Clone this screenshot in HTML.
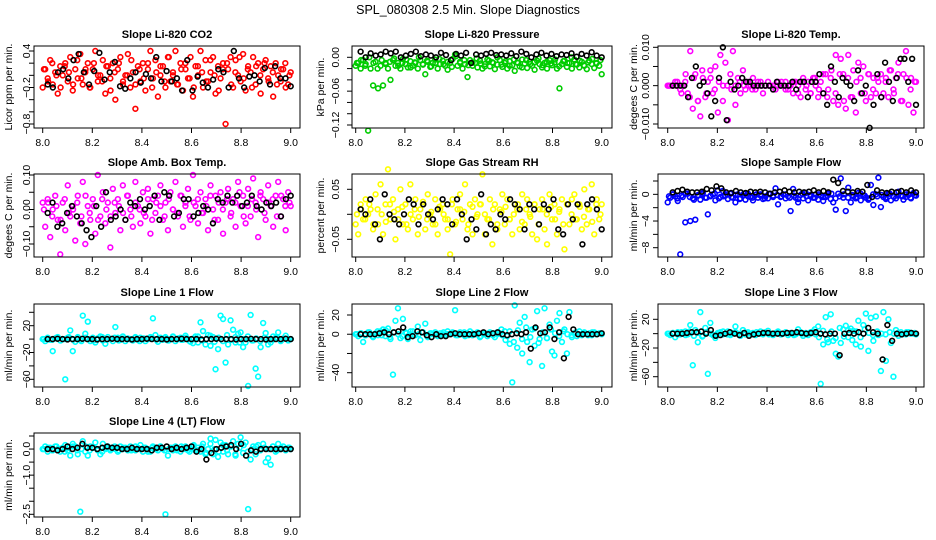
<!DOCTYPE html>
<html><head><meta charset="utf-8"><style>
html,body{margin:0;padding:0;background:#fff}
svg{display:block;font-family:"Liberation Sans",sans-serif}
</style></head><body>
<svg id="chart" width="936" height="540" viewBox="0 0 936 540">
<text x="468" y="14" text-anchor="middle" font-size="12.5">SPL_080308  2.5 Min. Slope Diagnostics</text>
</svg>
<script>
const xTicks=[8.0,8.2,8.4,8.6,8.8,9.0];
const xTickLabels=["8.0","8.2","8.4","8.6","8.8","9.0"];
const co2Color=[-0.2,0.1,-0.05,0.25,-0.15,0.05,-0.3,0.15,0,0.2,-0.1,0.3,-0.25,0.1,-0.05,0.35,-0.15,0.05,0.2,-0.2,0.1,0.4,-0.1,0,0.25,-0.3,0.15,-0.05,0.2,-0.4,0.1,0.3,-0.15,0,0.35,-0.2,0.05,-0.55,0.15,-0.1,0.2,-0.25,0.1,0.4,-0.05,0.25,-0.35,0,0.15,-0.2,0.3,-0.1,0.05,0.4,-0.15,0.2,-0.25,0.1,-0.05,0.3,-0.35,0.15,0,0.4,-0.2,0.25,-0.1,0.05,0.3,-0.3,0.15,-0.05,0.2,-0.8,0.1,0.3,-0.2,0.25,0,-0.1,0.35,-0.25,0.15,0.05,0.3,-0.15,0.2,-0.3,0.1,0.25,-0.05,0.15,-0.35,0.2,0,-0.1,0.1,-0.2,-0.15,0.05];
const co2ColorB=[0.1,-0.1,0.2,0,-0.2,0.15,0.05,-0.15,0.25,-0.05,0.1,-0.2,0.2,0,-0.1,0.15,-0.25,0.05,0.2,-0.1,0,0.25,-0.15,0.1,-0.05,0.2,-0.2,0.05,0.15,-0.1,0.3,0,-0.15,0.1,0.2,-0.05,-0.2,0.15,0.05,-0.1,0.25,0,-0.25,0.1,0.2,-0.15,0.05,0.3,-0.05,0.1,-0.2,0.15,0,0.2,-0.1,0.05,-0.15,0.1,0.2,0];
const co2Black=[-0.15,-0.2,0.05,0.1,-0.05,0.25,0.35,0.05,-0.15,0.07,0.37,-0.07,0.05,0.22,-0.18,-0.22,-0.05,0.05,-0.12,0.02,-0.05,0.3,-0.1,0.07,-0.1,-0.05,-0.25,0.25,-0.25,-0.02,-0.12,-0.2,-0.07,0.1,0.05,-0.2,0.4,-0.05,-0.2,-0.02,0.0,-0.1,0.12,-0.15,0.15,-0.05,-0.05,-0.18];
const presColor=[-0.015,-0.01,-0.02,-0.005,-0.012,-0.13,-0.02,-0.05,-0.008,-0.055,-0.015,-0.05,-0.01,-0.02,-0.04,-0.005,-0.015,-0.01,-0.02,-0.003,-0.012,-0.018,-0.007,-0.015,-0.01,-0.02,-0.005,-0.012,-0.03,-0.008,-0.017,-0.01,-0.004,-0.02,-0.012,-0.006,-0.015,-0.022,-0.01,-0.003,0.005,-0.015,-0.008,-0.02,-0.012,-0.035,-0.005,-0.015,-0.01,-0.018,-0.006,-0.02,-0.012,-0.004,-0.016,-0.009,-0.021,-0.013,-0.005,-0.017,-0.01,-0.02,-0.007,-0.014,-0.024,-0.009,-0.016,-0.004,-0.011,-0.019,-0.008,-0.015,-0.022,-0.006,-0.012,-0.018,-0.01,-0.02,-0.005,-0.014,-0.009,-0.02,-0.055,-0.012,-0.006,-0.017,-0.01,-0.02,-0.004,-0.013,-0.018,-0.008,-0.015,-0.021,-0.006,-0.012,-0.019,-0.01,-0.015,-0.03];
const presColorB=[-0.01,-0.005,-0.015,0,-0.01,-0.02,-0.005,-0.012,-0.008,-0.002,-0.015,-0.01,-0.004,-0.018,-0.009,0,-0.013,-0.006,-0.016,-0.01,-0.003,-0.012,-0.008,-0.017,0.002,-0.01,-0.005,-0.014,-0.009,-0.002,-0.011,-0.016,-0.006,-0.01,0,-0.013,-0.007,-0.015,-0.004,-0.01,-0.018,-0.005,-0.012,-0.009,-0.002,-0.014,-0.008,-0.011,-0.004,-0.016,-0.007,-0.01,0,-0.012,-0.006,-0.014,-0.009,-0.003,-0.011,-0.005];
const presBlack=[0.01,0,0.007,0.003,0.005,0.01,0.007,0.01,0,0.003,0.006,0.01,0.002,0.005,0.003,0,0.008,0.004,-0.005,0.006,0.003,0.008,-0.01,0.005,0.003,0.006,0.008,0.004,0.005,0.003,0.007,0.002,0.01,0.006,0,0.005,0.008,0.003,0.006,0.002,0.005,0.004,0.007,0.001,0.006,0.003,0.009,0.003,0];
const tempColor=[0,0,0,0.001,0,-0.001,0,0.001,-0.002,0.009,-0.006,0.003,-0.004,-0.008,0.002,-0.003,0.001,0.004,-0.002,0.005,-0.007,0.008,-0.004,0.006,-0.009,0.003,0.009,-0.005,0.002,-0.002,0.004,-0.001,0.001,0,0.002,-0.001,0.001,0,-0.002,0,0.001,0,0,-0.001,0.001,0,0,0.001,-0.001,0,-0.002,0.001,0,-0.003,0.002,-0.001,0.001,-0.002,0.002,0,-0.003,0.001,-0.002,0.003,-0.001,0.002,-0.004,0.008,-0.005,0.007,0.003,-0.006,0.008,-0.003,0.004,-0.007,0.006,-0.002,0.005,-0.004,0.003,-0.003,0.002,-0.002,0.001,0.003,-0.002,0.002,-0.003,0.004,-0.001,0.002,0.006,-0.004,0.003,0.009,-0.005,0.002,-0.007,0.001];
const tempColorB=[0,0,0.001,-0.002,0.003,-0.003,0.002,-0.004,0.004,-0.002,0.002,-0.001,0.001,0,0,-0.001,0,0.001,0,0,-0.001,0,0.001,0,0,-0.001,0,0.001,-0.001,0,0.001,-0.002,0.001,0,-0.002,0.002,-0.001,0.003,-0.003,0.004,-0.002,0.003,-0.004,0.002,-0.003,0.001,0.002,-0.002,0.003,-0.001,0.002,-0.003,0.001,0.004,-0.002,0.003,-0.004,0.002,-0.001,0.001];
const tempBlack=[0,0,0,0,-0.003,0.002,0.005,0,0.001,-0.002,-0.008,-0.004,0.002,0.01,-0.009,0.001,-0.001,0,0.002,0.001,0.001,0,0,0,0,0,-0.001,0.001,0,0,0,0.001,-0.001,0.001,0.001,-0.003,0.001,0.001,0.003,-0.002,-0.005,0.005,0.001,-0.003,0.002,0.001,0,-0.004,0.004,-0.002,0,-0.011,-0.005,0.003,-0.003,0.006,0.001,-0.004,0.002,0.007,0.007,0.001,0.007,-0.005];
const ambColor=[0.02,-0.05,0.03,-0.08,0,0.04,-0.03,-0.13,0.02,-0.06,0.07,-0.02,0.01,-0.09,0.04,-0.04,0.08,-0.1,0.01,-0.03,0.03,-0.07,0.1,-0.02,0.05,-0.04,0.02,-0.11,0.06,-0.01,0.03,-0.06,0.07,-0.03,0.04,0,-0.05,0.08,0.01,-0.04,0.05,-0.02,0.06,-0.07,0.03,-0.01,0.04,0.07,-0.03,0.02,-0.06,0.05,0,0.08,-0.02,0.04,-0.05,0.02,0.06,-0.03,0.1,0.01,-0.04,0.05,-0.01,0.03,-0.06,0.07,0,0.04,-0.03,0.05,-0.07,0.02,0.06,-0.02,0.03,-0.05,0.08,0.01,0.04,-0.04,0.06,-0.02,0.09,0.02,-0.08,0.05,0.03,-0.03,0.07,0.01,-0.05,0.04,0.08,-0.02,0.03,-0.06,0.05,0.01];
const ambColorB=[0,0.02,-0.02,0.01,-0.03,0.03,-0.01,0,0.02,-0.02,0.04,-0.01,0.01,-0.03,0.03,0,-0.02,0.02,0.01,-0.01,0.04,-0.02,0.02,0,-0.01,0.03,-0.03,0.02,0.01,-0.02,0.03,0,-0.01,0.04,0.01,-0.02,0.02,0.03,-0.01,0.01,0.04,-0.03,0.02,0,0.03,-0.01,0.02,0.05,-0.02,0.01,0.03,0,0.04,-0.01,0.02,0.03,-0.02,0.04,0.01,0.02];
const ambBlack=[-0.01,0.02,-0.05,-0.04,-0.01,0.01,-0.02,-0.04,-0.06,-0.08,0.01,-0.05,0.05,-0.03,-0.02,0,-0.03,0.02,0.01,0.03,0,0.01,0.04,-0.03,0.05,0.04,-0.02,-0.01,0.03,0.03,-0.02,-0.01,0.01,0,-0.04,0.03,0.02,0.04,0.02,0.04,0.01,0.02,0.04,0.01,0,0.02,0.01,0.02,-0.02,0.03,0.04];
const rhColor=[-0.02,-0.04,0.02,-0.01,0.03,0,0.01,-0.03,0.04,-0.02,0.06,-0.04,0.02,0.09,-0.01,0.03,-0.05,0.01,0.05,-0.02,0.02,-0.03,0.06,-0.01,0.03,-0.04,0.01,0.02,-0.03,0.04,0,-0.02,0.03,-0.04,0.01,0.02,-0.01,-0.03,-0.08,0.03,-0.02,0.01,0.04,-0.01,0.06,-0.03,0.02,-0.04,0.03,0,0.02,0.08,-0.04,-0.01,0.03,-0.06,0.02,-0.03,0.01,0.04,-0.02,0.03,-0.01,-0.04,0.02,0.01,-0.03,0.04,-0.02,0.03,0,-0.04,0.02,-0.05,0.01,0.03,-0.03,-0.06,0.04,-0.01,0.02,-0.04,0.01,0.03,-0.07,0.02,-0.02,0.03,0.04,-0.01,0.02,-0.03,0.05,-0.02,0.01,0.06,-0.04,0.03,-0.01,0.02];
const rhColorB=[0,0.01,-0.01,0.02,-0.02,0.01,0,-0.015,0.02,0.005,-0.01,0.015,-0.02,0,0.01,-0.005,0.025,-0.01,0.005,-0.02,0.015,0,-0.01,0.02,-0.015,0.01,0.005,-0.02,0.015,-0.005,0.02,0,-0.01,0.01,-0.02,0.005,0.015,-0.01,0,0.02,-0.015,0.01,-0.005,0.02,-0.02,0.01,0,0.015,-0.01,0.005,-0.02,0.02,0,-0.01,0.015,-0.005,0.01,-0.015,0.02,0];
const rhBlack=[0.01,0,0.03,-0.02,-0.05,0.04,0,-0.01,-0.02,0,0.03,0.02,-0.02,0.02,0,-0.01,0.01,0.03,0.02,-0.02,0.03,0,-0.05,-0.01,-0.03,0.04,-0.04,-0.02,-0.03,0,-0.01,0.03,0.02,0.01,-0.03,0.02,0.01,-0.02,0.02,0.01,0.03,-0.03,-0.04,0.02,-0.01,0.02,-0.06,0.02,0.03,0.01,-0.03];
const sampColor=[-1.2,-0.5,0,-0.3,-1,-9,-0.4,-4.2,0.1,-4,-0.6,-3.8,-0.2,-0.8,0.2,-0.5,-3,-0.3,0,-0.9,0.6,-0.4,0.5,-0.2,-0.7,0.1,-0.5,-1.2,0,-0.6,-0.2,-0.8,0.1,-0.4,-0.9,-0.1,-0.5,0,-0.7,-0.3,-0.6,0.1,-0.2,0.9,-1.5,-0.4,0,-0.6,-0.3,-2.5,0.8,-0.5,-1.2,-0.1,-0.6,0.2,-0.9,-0.3,-0.5,0,-0.8,-0.2,-1,-0.4,0.1,-0.7,-1.2,-2.3,0.1,2.4,-0.5,-2.5,1,-1.2,-0.3,-0.6,0.2,-0.9,-0.2,-0.5,-0.8,1.4,-1.6,0,2.5,-1.9,-0.4,-0.7,0.1,-0.9,-0.3,-0.6,0.4,-0.2,-0.8,-0.4,-0.1,-0.6,0.2,-0.2];
const sampColorB=[-0.3,0,-0.6,-0.2,0.1,-0.4,-0.8,-0.1,0,-0.5,-0.2,0.1,-0.6,-0.3,0,-0.4,-0.1,-0.7,0.1,-0.3,-0.5,0,-0.2,-0.6,0.1,-0.4,-0.1,-0.3,0,-0.5,-0.2,-0.7,0.1,-0.3,-0.1,-0.5,0,-0.4,-0.2,0.1,-0.6,-0.3,0,-0.5,-0.1,-0.4,0.1,-0.2,-0.6,0,-0.3,-0.1,-0.5,0.1,-0.4,-0.2,-0.3,0,-0.5,-0.1];
const sampBlack=[0.3,0.5,0.7,0.4,0.3,0.3,0.4,0.8,0.6,1.2,0.9,0.3,0.2,0.5,0.3,0.2,0.4,0.3,0.4,0.3,0.1,0.3,0.4,0.6,0.4,0.3,0.4,0.3,0.4,0.6,0.3,0.5,0.3,2.2,1.7,0.5,0.4,0.3,0.5,0.4,1.4,-0.4,0.6,0.3,0.2,0.4,0.3,0.5,0.3,0.6,0.3];
const l1Color=[0,-3,2,-1,-18,1,3,-2,0,-60,2,13,-18,-4,3,-1,35,8,26,-3,2,-5,1,4,-2,-7,3,0,-3,18,2,-1,4,-3,1,0,-2,3,-1,2,0,-3,1,3,31,6,-4,2,-1,3,-2,0,4,-3,1,2,-1,5,0,-4,-6,4,-5,25,12,-8,6,-10,3,-45,-15,35,30,-35,-8,28,14,-5,8,10,-12,-5,-70,36,-2,-44,-56,-12,24,9,-8,-5,4,2,10,-3,1,5,-2,0];
const l1ColorB=[0,1,-1,2,-2,0,3,-1,1,-3,2,0,-2,1,3,-1,0,2,-2,1,0,-1,2,-3,1,0,2,-1,0,1,-2,3,0,-1,2,-3,1,4,-2,0,5,-4,2,-3,6,-1,3,-5,0,4,-2,1,-3,2,0,-1,3,-2,1,0];
const l1Black=[0,0,0.5,0,-0.5,0,0,0.5,0,0,-0.5,0,0,0.5,0,0,0,-0.5,0,0,0.5,0,0,0,-0.5,0,0,0.5,0,0,0,-0.5,0,0,0.5,0,0,0,-0.5,0,0,0.5,0,0,-0.5,0,0,0,0.5,0];
const l2Color=[0,-2,1,-8,-1,2,0,-3,1,-1,3,5,-2,6,-5,-42,14,27,-4,16,2,-5,0,3,-1,8,-6,2,11,-3,1,0,2,-2,1,0,-1,3,0,2,25,-1,2,0,-2,1,3,-1,0,2,-3,1,0,-2,2,1,-3,0,1,-1,3,-2,-10,-50,30,-14,12,-20,18,-8,-29,5,-12,24,-5,-33,27,-4,10,-18,-22,14,22,-8,5,-20,23,-3,1,-2,3,-1,2,0,1,-1,2,0,1,0];
const l2ColorB=[0,1,-1,2,-2,3,-1,4,-3,2,0,-2,1,3,-1,0,2,-2,1,0,-1,2,0,1,-1,0,2,-1,1,0,-2,1,0,-1,2,5,-6,3,-8,4,-5,7,-3,6,-9,2,-4,5,1,-2,3,0,-1,2,0,1,-1,2,0,1];
const l2Black=[0,0,0,0,1,2,0,2,3,7,-3,-2,3,2,-1,-3,0,-2,-2,0,1,0,0,0,0,1,2,0,1,2,0,-1,0,1,0,2,-15,7,1,2,7,-5,2,-25,18,5,0,0,0,0,0,1];
const l3Color=[0,-2,1,-5,2,-1,0,3,-1,12,-44,5,-12,30,-3,8,-56,15,-2,-6,1,2,-1,0,3,-2,1,10,0,-3,5,-1,2,0,1,-2,0,3,-1,2,4,0,-2,1,3,-1,0,2,-2,1,0,-1,6,2,-3,1,-2,0,3,-1,10,-70,-15,23,-12,27,-10,-28,-32,-13,6,11,-5,7,4,-15,18,-18,12,28,-24,22,-10,24,-2,-52,30,-38,20,-13,-60,5,-3,2,0,-1,2,1,0,-1];
const l3ColorB=[0,1,-1,2,-2,3,-3,1,-4,2,0,-2,1,3,-1,0,2,-2,1,0,-1,2,0,1,-1,0,2,-1,1,0,-2,1,0,-1,2,6,-5,4,-8,3,-6,8,-4,5,-9,3,-5,6,1,-2,3,0,-1,2,0,1,-1,2,0,1];
const l3Black=[0,0,0,1,2,2,3,0,5,-3,-2,0,2,0,-2,1,-3,-1,0,1,1,0,0,0,1,1,2,1,0,1,2,0,-1,0,0,-30,0,1,0,2,0,8,2,0,-36,12,-10,0,-1,0,1,0];
const l4Color=[0,0.1,-0.1,0.05,-0.05,0.1,0,-0.1,0.05,0.15,-0.05,-0.25,0.2,0.1,-0.2,-2.4,0.3,-0.1,-0.25,0.1,0.05,0.25,-0.05,-0.2,0.2,0,0.1,-0.05,0.05,0,-0.1,0.1,0,0.05,-0.05,0.1,0,-0.05,0.05,0.15,-0.1,0.05,0,-0.1,0.1,0.05,-0.05,0.1,0,-2.5,-0.25,0.05,-0.05,0.1,0,-0.1,0.05,0.1,-0.05,0,0.1,-0.05,0.05,-0.1,0.2,-0.2,0,0.4,-0.2,0.35,-0.3,0.25,-0.1,0.15,-0.2,0.1,0.3,-0.25,0.2,0.45,-0.15,0.25,-2.3,-0.4,0.1,-0.2,0.15,0,0.2,-0.5,-0.35,-0.6,0.1,-0.1,0.2,0,0.1,-0.05,0.05,0];
const l4ColorB=[0,0.05,-0.05,0.1,0,-0.1,0.05,0.1,-0.05,0,0.1,-0.05,0.05,0,-0.1,0.05,0,0.1,-0.05,0.05,0,-0.05,0.1,0,0.05,-0.1,0.05,0,0.1,-0.05,0,0.05,-0.05,0.1,0,-0.1,0.15,-0.05,0.1,-0.15,0.2,0,-0.1,0.15,-0.05,0.1,-0.2,0.05,0.15,-0.1,0,0.1,-0.05,0.05,0,0.1,-0.05,0.05,0,0.05];
const l4Black=[0,0,-0.05,0,0.1,0,0.05,0.2,0.05,0.05,0,0.05,0.1,0.05,0.05,0,0,0.05,0,0,0,-0.05,0.05,0.05,0.1,0,0.05,0,0.05,0.1,-0.1,0,-0.4,-0.15,0,0.05,0.1,0.15,0,0.2,-0.25,-0.05,-0.1,0,0,0,0,0,0,0];

const NS="http://www.w3.org/2000/svg";
const svg=document.getElementById('chart');
function mk(tag,attrs,parent){const e=document.createElementNS(NS,tag);for(const k in attrs)e.setAttribute(k,attrs[k]);(parent||svg).appendChild(e);return e;}

const colX=[{L:34,R:300,x0:42.7,x1:290.7,tl:26,yl:8},{L:352,R:612,x0:355.7,x1:601.7,tl:335,yl:320},{L:658,R:924,x0:667.7,x1:916,tl:645,yl:633}];
const rowY=[{T:46,B:128},{T:174,B:257},{T:304,B:387},{T:433,B:517}];
const panels=[
 {name:"co2",title:"Slope Li-820 CO2",ylab:"Licor ppm per min.",col:"#ff0000",c:0,r:0,vals:co2Color,vals2:co2ColorB,blk:co2Black,yt:[0.4,0.2,0,-0.2,-0.4,-0.6,-0.8],ytl:{"0.4":"0.4","-0.2":"-0.2","-0.8":"-0.8"},ym:[0.4,51,-0.8,124]},
 {name:"pressure",title:"Slope Li-820 Pressure",ylab:"kPa per min.",col:"#00cc00",c:1,r:0,vals:presColor,vals2:presColorB,blk:presBlack,yt:[0,-0.02,-0.04,-0.06,-0.08,-0.1,-0.12],ytl:{"0":"0.00","-0.06":"-0.06","-0.12":"-0.12"},ym:[0,57.3,-0.12,125]},
 {name:"temp",title:"Slope Li-820 Temp.",ylab:"degees C per min.",col:"#ff00ff",c:2,r:0,vals:tempColor,vals2:tempColorB,blk:tempBlack,yt:[0.01,0.005,0,-0.005,-0.01],ytl:{"0.01":"0.010","0":"0.000","-0.01":"-0.010"},ym:[0.01,47.3,-0.01,124]},
 {name:"amb-box-temp",title:"Slope Amb. Box Temp.",ylab:"degees C per min.",col:"#ff00ff",c:0,r:1,vals:ambColor,vals2:ambColorB,blk:ambBlack,yt:[0.1,0.05,0,-0.05,-0.1],ytl:{"0.1":"0.10","0":"0.00","-0.1":"-0.10"},ym:[0.1,175,-0.1,244]},
 {name:"gas-rh",title:"Slope Gas Stream RH",ylab:"percent per min.",col:"#ffff00",c:1,r:1,vals:rhColor,vals2:rhColorB,blk:rhBlack,yt:[0.05,0,-0.05],ytl:{"0.05":"0.05","-0.05":"-0.05"},ym:[0.05,189.3,-0.05,239.3]},
 {name:"sample-flow",title:"Slope Sample Flow",ylab:"ml/min per min.",col:"#0000ff",c:2,r:1,vals:sampColor,vals2:sampColorB,blk:sampBlack,yt:[2,0,-2,-4,-6,-8],ytl:{"0":"0","-4":"-4","-8":"-8"},ym:[2,181,-8,247.7]},
 {name:"line1-flow",title:"Slope Line 1 Flow",ylab:"ml/min per min.",col:"#00ffff",c:0,r:2,vals:l1Color,vals2:l1ColorB,blk:l1Black,yt:[40,20,0,-20,-40,-60],ytl:{"20":"20","-20":"-20","-60":"-60"},ym:[40,312.3,-60,379.3]},
 {name:"line2-flow",title:"Slope Line 2 Flow",ylab:"ml/min per min.",col:"#00ffff",c:1,r:2,vals:l2Color,vals2:l2ColorB,blk:l2Black,yt:[20,0,-20,-40],ytl:{"20":"20","0":"0","-40":"-40"},ym:[20,315,-40,372.7]},
 {name:"line3-flow",title:"Slope Line 3 Flow",ylab:"ml/min per min.",col:"#00ffff",c:2,r:2,vals:l3Color,vals2:l3ColorB,blk:l3Black,yt:[20,0,-20,-40,-60],ytl:{"20":"20","-20":"-20","-60":"-60"},ym:[20,319.3,-60,376.7]},
 {name:"line4-flow",title:"Slope Line 4 (LT) Flow",ylab:"ml/min per min.",col:"#00ffff",c:0,r:3,vals:l4Color,vals2:l4ColorB,blk:l4Black,yt:[0.5,0,-0.5,-1,-1.5,-2,-2.5],ytl:{"0":"0.0","-1":"-1.0","-2.5":"-2.5"},ym:[0.5,436,-2.5,514.3]}
];

panels.forEach(p=>{
 const cx=colX[p.c], ry=rowY[p.r];
 const g=mk('g',{});
 
 
 const xs=v=>cx.x0+(v-8)*(cx.x1-cx.x0);
 const ys=v=>p.ym[1]+(v-p.ym[0])*(p.ym[3]-p.ym[1])/(p.ym[2]-p.ym[0]);
 const t=mk('text',{x:(cx.L+cx.R)/2,y:ry.T-8,'text-anchor':'middle','font-size':11,'font-weight':'bold'},g);
 t.textContent=p.title;
 
 
 const yl=mk('text',{x:0,y:0,'text-anchor':'middle','font-size':10.5,transform:`translate(${cx.yl+4},${(ry.T+ry.B)/2}) rotate(-90)`},g);
 yl.textContent=p.ylab;
 
 
 xTicks.forEach((v,i)=>{
  const x=xs(v);
  const tk=mk('line',{x1:x,x2:x,y1:ry.B,y2:ry.B+5,stroke:'#000','stroke-width':1},g);
  
  
  const tl=mk('text',{x:x,y:ry.B+18,'text-anchor':'middle','font-size':10.5},g);
  tl.textContent=xTickLabels[i];
  
  
 });
 p.yt.forEach(v=>{
  const y=ys(v);
  const tk=mk('line',{x1:cx.L-5,x2:cx.L,y1:y,y2:y,stroke:'#000','stroke-width':1},g);
  
  
  const lab=p.ytl[String(v)];
  if(lab){
   const tl=mk('text',{x:0,y:0,'text-anchor':'middle','font-size':10.5,transform:`translate(${cx.tl+4},${y}) rotate(-90)`},g);
   tl.textContent=lab.replace('-','\u2212');
   
   
  }
 });
 const n=p.vals.length;
 p.vals.forEach((v,i)=>{
  const c=mk('circle',{cx:xs(8+i/(n-1)),cy:ys(v),r:2.4,fill:'none',stroke:p.col,'stroke-width':1.6},g);
  
  
 });
 const n2=p.vals2.length;
 p.vals2.forEach((v,i)=>{
  const c=mk('circle',{cx:xs(8.005+0.99*i/(n2-1)),cy:ys(v),r:2.4,fill:'none',stroke:p.col,'stroke-width':1.6},g);
  
  
 });
 const m=p.blk.length;
 p.blk.forEach((v,i)=>{
  const c=mk('circle',{cx:xs(8.02+0.98*i/(m-1)),cy:ys(v),r:2.4,fill:'none',stroke:'#000','stroke-width':1.6},g);
  
  
 });
 const box=mk('rect',{x:cx.L,y:ry.T,width:cx.R-cx.L,height:ry.B-ry.T,fill:'none',stroke:'#000','stroke-width':1},g);
 
 
});
</script>
</body></html>
